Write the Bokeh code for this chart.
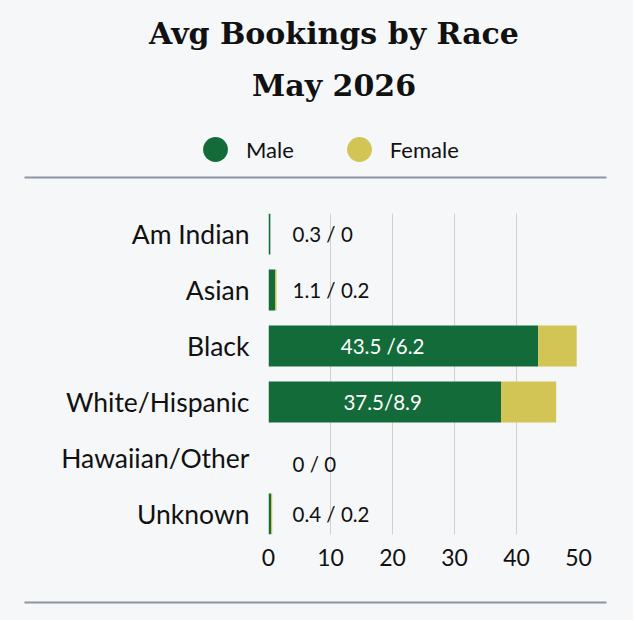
from bokeh.plotting import figure
from bokeh.layouts import column
from bokeh.models import (ColumnDataSource, Range1d, FixedTicker,
                          BoxAnnotation, Legend, LegendItem)
from bokeh.embed import file_html
from bokeh.resources import INLINE
from bokeh.core.properties import value

# ---- data ----
races = ["Am Indian", "Asian", "Black", "White/Hispanic", "Hawaiian/Other", "Unknown"]
male = [0.3, 1.1, 43.5, 37.5, 0.0, 0.4]
female = [0.0, 0.2, 6.2, 8.9, 0.0, 0.2]
bar_labels = ["0.3 / 0", "1.1 / 0.2", "43.5 /6.2", "37.5/8.9", "0 / 0", "0.4 / 0.2"]
x_ticks = [0, 10, 20, 30, 40, 50]
series = ["Male", "Female"]
title_lines = ["Avg Bookings by Race", "May 2026"]

# ---- style ----
GREEN = "#146b3a"
GOLD = "#d2c455"
BG = "#f6f7f9"
RULE = "#8c96a3"
INK = "#111111"
SANS = "Lato"
W = 633
HEAD_H, MAIN_H, FOOT_H = 205, 375, 40
BAR_H = 0.73
LABEL_IN_X = 18.4
NAN = float("nan")

n = len(races)
idx = list(range(n))
total = [m + f for m, f in zip(male, female)]


def plain(h):
    f = figure(width=W, height=h, output_backend="svg", toolbar_location=None,
               title=None, x_axis_type=None, y_axis_type=None,
               x_range=Range1d(0, W), y_range=Range1d(h, 0),
               min_border_left=0, min_border_right=0,
               min_border_top=0, min_border_bottom=0)
    f.frame_align = False
    f.outline_line_color = None
    f.background_fill_color = BG
    f.border_fill_color = BG
    return f


# ---- header: title, legend, rule ----
head = plain(HEAD_H)
head.text(x=[W / 2 + 17] * 2, y=[33, 85], text=title_lines,
          text_font=value("DejaVu Serif"), text_font_style="bold",
          text_font_size="30px", text_color=INK, text_align="center",
          text_baseline="middle")
# legend-only renderers (no visible points)
lm = head.scatter(x=[NAN], y=[NAN], marker="circle", fill_color=GREEN, line_color=None)
lf = head.scatter(x=[NAN], y=[NAN], marker="circle", fill_color=GOLD, line_color=None)
legend = Legend(items=[LegendItem(label=series[0], renderers=[lm], index=0),
                       LegendItem(label=series[1], renderers=[lf], index=0)],
                orientation="horizontal", location=(184, 25),
                glyph_width=62, glyph_height=62, label_standoff=0, spacing=34,
                padding=0, margin=0, border_line_color=None,
                background_fill_alpha=0, label_text_font=SANS,
                label_text_font_size="22px", label_text_color=INK)
head.add_layout(legend, "center")
head.add_layout(BoxAnnotation(left=24, right=606, top=176, bottom=178,
                              fill_color=RULE, fill_alpha=1, line_color=None))

# ---- main chart ----
p = figure(width=W, height=MAIN_H, output_backend="svg", toolbar_location=None,
           title=None,
           x_range=Range1d(x_ticks[0], x_ticks[-1]),
           y_range=Range1d(n - 1 + BAR_H / 2, -BAR_H / 2),
           min_border_left=268, min_border_right=W - 578,
           min_border_top=8, min_border_bottom=46)
p.frame_align = False
p.outline_line_color = None
p.background_fill_color = BG
p.border_fill_color = BG

src = ColumnDataSource(dict(y=idx, male=male, total=total))
p.hbar(y="y", left=0, right="male", height=BAR_H, source=src,
       fill_color=GREEN, line_color=None)
p.hbar(y="y", left="male", right="total", height=BAR_H, source=src,
       fill_color=GOLD, line_color=None)

ins = [i for i in idx if male[i] > 20]
outs = [i for i in idx if male[i] <= 20]
src_in = ColumnDataSource(dict(x=[LABEL_IN_X] * len(ins), y=ins,
                               t=[bar_labels[i] for i in ins]))
src_out = ColumnDataSource(dict(x=[0] * len(outs), y=outs,
                                t=[bar_labels[i] for i in outs],
                                dy=[6 if total[i] == 0 else 0 for i in outs]))
p.text(x="x", y="y", text="t", source=src_in, text_font=value(SANS),
       text_font_size="20.5px", text_color="white", text_align="center",
       text_baseline="middle")
p.text(x="x", y="y", text="t", source=src_out, text_font=value(SANS),
       text_font_size="20.5px", text_color=INK, text_align="left",
       text_baseline="middle", x_offset=24, y_offset="dy")

p.xaxis.ticker = FixedTicker(ticks=x_ticks)
p.xaxis.axis_line_color = None
p.xaxis.major_tick_line_color = None
p.xaxis.minor_tick_line_color = None
p.xaxis.major_label_text_font = SANS
p.xaxis.major_label_text_font_size = "23px"
p.xaxis.major_label_text_color = INK
p.xaxis.major_label_standoff = 8

p.yaxis.ticker = FixedTicker(ticks=idx)
p.yaxis.major_label_overrides = {i: r for i, r in enumerate(races)}
p.yaxis.axis_line_color = None
p.yaxis.major_tick_line_color = None
p.yaxis.minor_tick_line_color = None
p.yaxis.major_label_text_font = SANS
p.yaxis.major_label_text_font_size = "26.5px"
p.yaxis.major_label_text_color = INK
p.yaxis.major_label_standoff = 13

p.xgrid.grid_line_color = "#d0d0d0"
p.ygrid.grid_line_color = None

# ---- footer rule ----
foot = plain(FOOT_H)
foot.add_layout(BoxAnnotation(left=24, right=606, top=21, bottom=23,
                              fill_color=RULE, fill_alpha=1, line_color=None))

layout = column(head, p, foot, spacing=0, styles={"background-color": BG})
open("out.html", "w").write(file_html(layout, INLINE))
